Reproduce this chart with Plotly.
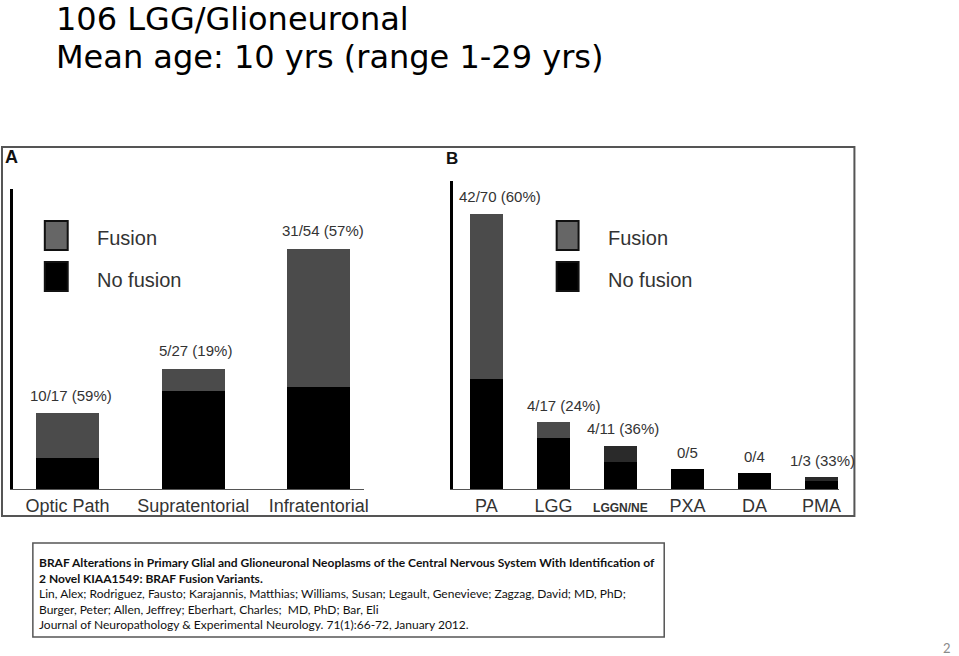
import plotly.graph_objects as go

# ---------------- data ----------------
cats_a = ["Optic Path", "Supratentorial", "Infratentorial"]
fusion_a = [10, 5, 31]
nofusion_a = [7, 22, 23]
labels_a = ["10/17 (59%)", "5/27 (19%)", "31/54 (57%)"]

cats_b = ["PA", "LGG", "LGGN/NE", "PXA", "DA", "PMA"]
fusion_b = [42, 4, 4, 0, 0, 1]
nofusion_b = [28, 13, 7, 5, 4, 2]
labels_b = ["42/70 (60%)", "4/17 (24%)", "4/11 (36%)", "0/5", "0/4", "1/3 (33%)"]
ticktext_b = ["PA", "LGG", "<b><span style='font-size:12px'>LGGN/NE</span></b>", "PXA", "DA", "PMA"]

W, H = 959, 656


def px(x):
    return x / W


def py(y):
    return 1 - y / H


ARIAL = "Liberation Sans, Arial, sans-serif"
CAL = "Lato, Calibri, sans-serif"
TITLEF = "DejaVu Sans, Calibri, sans-serif"
FUS = "#4b4b4b"
NOF = "#000000"

fig = go.Figure()

# Panel A
fig.add_trace(go.Bar(x=cats_a, y=nofusion_a, marker=dict(color=NOF, line=dict(width=0)),
                     width=0.5, xaxis="x", yaxis="y", showlegend=False, name="No fusion"))
fig.add_trace(go.Bar(x=cats_a, y=fusion_a, marker=dict(color=FUS, line=dict(width=0)),
                     width=0.5, xaxis="x", yaxis="y", showlegend=False, name="Fusion"))
# Panel B
fus_colors_b = [FUS, FUS, "#2a2a2a", FUS, FUS, "#2a2a2a"]
fig.add_trace(go.Bar(x=cats_b, y=nofusion_b, marker=dict(color=NOF, line=dict(width=0)),
                     width=0.49, xaxis="x2", yaxis="y2", showlegend=False, name="No fusion"))
fig.add_trace(go.Bar(x=cats_b, y=fusion_b, marker=dict(color=fus_colors_b, line=dict(width=0)),
                     width=0.49, xaxis="x2", yaxis="y2", showlegend=False, name="Fusion"))

tickfont = dict(family=ARIAL, size=18, color="#333333")
common_x = dict(showgrid=False, zeroline=False, showline=True, linecolor="#555555",
                linewidth=1, ticks="", tickfont=tickfont, fixedrange=True)
common_y = dict(showgrid=False, zeroline=False, showline=True, linecolor="#000000",
                linewidth=3, ticks="", showticklabels=False, fixedrange=True)

fig.update_layout(
    width=W, height=H,
    margin=dict(l=0, r=0, t=0, b=0),
    paper_bgcolor="white", plot_bgcolor="rgba(0,0,0,0)",
    barmode="stack",
    xaxis=dict(domain=[px(13), px(366)], range=[-0.435, 2.364], anchor="y",
               tickmode="array", tickvals=cats_a, ticktext=cats_a, **common_x),
    yaxis=dict(domain=[py(489), py(189)], range=[0, 67.4], anchor="x", **common_y),
    xaxis2=dict(domain=[px(455), px(843)], range=[-0.498, 5.27], anchor="y2",
                tickmode="array", tickvals=cats_b, ticktext=ticktext_b, **common_x),
    yaxis2=dict(domain=[py(489), py(181)], range=[0, 78.4], anchor="x2", **common_y),
)

annotations = []
label_font = dict(family=ARIAL, size=15, color="#333333")
shifts_a = [3, 2, 4]
for c, f, n, lab, s in zip(cats_a, fusion_a, nofusion_a, labels_a, shifts_a):
    annotations.append(dict(x=c, y=f + n, xref="x", yref="y", text=lab, showarrow=False,
                            xanchor="center", yanchor="middle", yshift=18, xshift=s,
                            font=label_font))
shifts_b = [14, 10, 3, 0, 0, 1]
for c, f, n, lab, s in zip(cats_b, fusion_b, nofusion_b, labels_b, shifts_b):
    annotations.append(dict(x=c, y=f + n, xref="x2", yref="y2", text=lab, showarrow=False,
                            xanchor="center", yanchor="middle", yshift=17, xshift=s,
                            font=label_font))

# Panel letters
annotations.append(dict(x=px(3), y=py(157), xref="paper", yref="paper", text="<b>A</b>",
                        showarrow=False, xanchor="left", yanchor="middle",
                        font=dict(family=ARIAL, size=18, color="#111111")))
annotations.append(dict(x=px(446), y=py(158), xref="paper", yref="paper", text="<b>B</b>",
                        showarrow=False, xanchor="left", yanchor="middle",
                        font=dict(family=ARIAL, size=17, color="#111111")))

# Legends (drawn)
legend_font = dict(family=ARIAL, size=20, color="#333333")
shapes = []
for x0, x1, tx in [(45, 68, 95), (559, 581, 609)]:
    shapes.append(dict(type="rect", xref="paper", yref="paper", x0=px(x0), x1=px(x1),
                       y0=py(250), y1=py(221), fillcolor="#666666",
                       line=dict(color="#111111", width=2)))
    shapes.append(dict(type="rect", xref="paper", yref="paper", x0=px(x0), x1=px(x1),
                       y0=py(291), y1=py(262), fillcolor="#000000",
                       line=dict(color="#111111", width=2)))
    annotations.append(dict(x=px(tx), y=py(238), xref="paper", yref="paper", text="Fusion",
                            showarrow=False, xanchor="left", yanchor="middle", font=legend_font))
    annotations.append(dict(x=px(tx), y=py(280), xref="paper", yref="paper", text="No fusion",
                            showarrow=False, xanchor="left", yanchor="middle", font=legend_font))

# Figure frame
shapes.append(dict(type="rect", xref="paper", yref="paper", x0=px(2), x1=px(858),
                   y0=py(516), y1=py(147), line=dict(color="#555555", width=2)))
# Citation box
shapes.append(dict(type="rect", xref="paper", yref="paper", x0=px(33), x1=px(667),
                   y0=py(637), y1=py(543), line=dict(color="#555555", width=1.5)))

# Title
title_font = dict(family=TITLEF, size=32, color="#000000")
annotations.append(dict(x=px(54), y=py(19.2), xref="paper", yref="paper",
                        text="106 LGG/Glioneuronal", showarrow=False,
                        xanchor="left", yanchor="middle", font=title_font))
annotations.append(dict(x=px(54), y=py(57), xref="paper", yref="paper",
                        text="Mean age: 10 yrs (range 1-29 yrs)", showarrow=False,
                        xanchor="left", yanchor="middle", font=title_font))

# Citation
cit = ("<b>BRAF Alterations in Primary Glial and Glioneuronal Neoplasms of the Central Nervous System With Identification of</b><br>"
       "<b>2 Novel KIAA1549: BRAF Fusion Variants.</b><br>"
       "Lin, Alex; Rodriguez, Fausto; Karajannis, Matthias; Williams, Susan; Legault, Genevieve; Zagzag, David; MD, PhD;<br>"
       "Burger, Peter; Allen, Jeffrey; Eberhart, Charles;  MD, PhD; Bar, Eli<br>"
       "Journal of Neuropathology &amp; Experimental Neurology. 71(1):66-72, January 2012.")
annotations.append(dict(x=px(37), y=py(593), xref="paper", yref="paper", text=cit,
                        showarrow=False, xanchor="left", yanchor="middle", align="left",
                        font=dict(family=CAL, size=12, color="#111111")))

# Page number
annotations.append(dict(x=px(951), y=py(648), xref="paper", yref="paper", text="2",
                        showarrow=False, xanchor="center", yanchor="middle",
                        font=dict(family=CAL, size=13, color="#8a8a8a")))

fig.update_layout(annotations=annotations, shapes=shapes)

fig.write_html("out.html", config={"displayModeBar": False},
               post_script="document.body.style.margin='0px';")
